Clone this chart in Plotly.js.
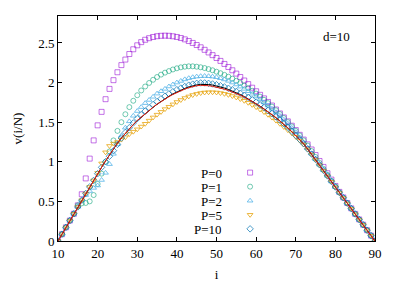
<!DOCTYPE html>
<html><head><meta charset="utf-8">
<script src="https://cdn.plot.ly/plotly-3.0.1.min.js"></script>
<style>html,body{margin:0;padding:0;background:#fff;}#chart{width:407px;height:285px;}</style>
</head><body><div id="chart"></div>
<script>
// i values 10..90
const iVals = [];
for (let k = 10; k <= 90; k++) iVals.push(k);

const vP0 = [0,0.086,0.172,0.258,0.344,0.45,0.59,0.79,1.04,1.27,
 1.46,1.63,1.79,1.92,2.03,2.13,2.22,2.29,2.36,2.42,
 2.47,2.51,2.54,2.56,2.575,2.585,2.59,2.592,2.59,2.584,
 2.575,2.562,2.545,2.524,2.5,2.474,2.445,2.413,2.38,2.346,
 2.31,2.273,2.235,2.196,2.155,2.113,2.07,2.026,1.98,1.935,
 1.89,1.845,1.8,1.755,1.71,1.66,1.61,1.56,1.51,1.455,
 1.40,1.34,1.28,1.22,1.155,1.085,1.01,0.935,0.855,0.775,
 0.695,0.62,0.55,0.48,0.412,0.342,0.272,0.206,0.136,0.068,
 0];
const vP1 = [0,0.086,0.172,0.258,0.344,0.45,0.475,0.48,0.50,0.58,
 0.72,0.85,1.0,1.13,1.27,1.39,1.5,1.6,1.69,1.77,
 1.84,1.9,1.95,1.995,2.035,2.07,2.1,2.125,2.145,2.165,
 2.18,2.192,2.2,2.205,2.205,2.2,2.193,2.183,2.17,2.155,
 2.137,2.118,2.097,2.074,2.049,2.022,1.993,1.962,1.93,1.896,
 1.86,1.822,1.782,1.74,1.696,1.65,1.602,1.552,1.5,1.446,
 1.39,1.332,1.27,1.205,1.135,1.06,0.985,0.91,0.835,0.76,
 0.688,0.615,0.547,0.477,0.41,0.341,0.271,0.205,0.135,0.068,
 0];
const vP2 = [0,0.086,0.172,0.258,0.344,0.43,0.515,0.58,0.63,0.67,
 0.70,0.77,0.86,0.97,1.1,1.22,1.33,1.43,1.51,1.58,
 1.64,1.69,1.74,1.78,1.82,1.86,1.89,1.92,1.95,1.975,
 2.0,2.02,2.04,2.055,2.067,2.075,2.08,2.082,2.08,2.075,
 2.067,2.054,2.039,2.021,2.0,1.975,1.948,1.92,1.89,1.858,
 1.824,1.788,1.75,1.71,1.668,1.624,1.578,1.53,1.48,1.428,
 1.372,1.308,1.242,1.172,1.103,1.035,0.963,0.893,0.822,0.751,
 0.681,0.611,0.545,0.476,0.41,0.34,0.27,0.205,0.135,0.068,
 0];
const vP5 = [0,0.086,0.172,0.258,0.344,0.43,0.515,0.6,0.683,0.765,
 0.86,0.98,1.12,1.2,1.23,1.25,1.28,1.31,1.35,1.38,
 1.41,1.445,1.48,1.52,1.56,1.595,1.63,1.665,1.695,1.725,
 1.755,1.78,1.805,1.825,1.843,1.857,1.868,1.875,1.878,1.878,
 1.875,1.868,1.858,1.845,1.83,1.812,1.792,1.77,1.745,1.718,
 1.69,1.66,1.628,1.594,1.558,1.52,1.48,1.44,1.40,1.36,
 1.315,1.268,1.218,1.158,1.093,1.028,0.958,0.888,0.818,0.748,
 0.678,0.608,0.543,0.474,0.408,0.339,0.269,0.204,0.134,0.067,
 0];
const vP10 = [0,0.086,0.172,0.258,0.344,0.43,0.515,0.6,0.683,0.765,
 0.85,0.93,1.0,1.07,1.14,1.22,1.30,1.37,1.43,1.49,
 1.545,1.595,1.64,1.682,1.722,1.76,1.795,1.828,1.858,1.885,
 1.91,1.93,1.95,1.967,1.98,1.99,1.995,1.995,1.99,1.982,
 1.972,1.96,1.945,1.928,1.909,1.888,1.865,1.84,1.813,1.784,
 1.753,1.72,1.685,1.648,1.609,1.568,1.525,1.48,1.435,1.385,
 1.333,1.282,1.227,1.162,1.097,1.03,0.962,0.892,0.822,0.752,
 0.682,0.612,0.546,0.477,0.41,0.341,0.271,0.205,0.136,0.068,
 0];
const vRed = [0,0.086,0.172,0.258,0.344,0.43,0.515,0.6,0.683,0.765,
 0.85,0.93,1.01,1.09,1.165,1.235,1.30,1.36,1.415,1.47,
 1.52,1.565,1.608,1.648,1.688,1.726,1.76,1.792,1.822,1.85,
 1.875,1.897,1.917,1.935,1.95,1.96,1.965,1.965,1.96,1.952,
 1.942,1.93,1.916,1.9,1.882,1.862,1.84,1.816,1.79,1.762,
 1.732,1.7,1.667,1.632,1.595,1.556,1.515,1.473,1.43,1.38,
 1.33,1.28,1.225,1.16,1.095,1.03,0.96,0.89,0.82,0.75,
 0.68,0.61,0.545,0.475,0.41,0.34,0.27,0.205,0.135,0.068,
 0];
const vBlack = [0,0.086,0.172,0.258,0.344,0.43,0.515,0.6,0.683,0.765,
 0.85,0.93,1.01,1.09,1.165,1.235,1.30,1.36,1.415,1.47,
 1.52,1.565,1.608,1.648,1.688,1.726,1.762,1.796,1.827,1.856,
 1.882,1.905,1.926,1.944,1.959,1.97,1.976,1.978,1.975,1.968,
 1.958,1.946,1.931,1.913,1.894,1.873,1.849,1.823,1.795,1.766,
 1.734,1.701,1.667,1.632,1.595,1.556,1.515,1.473,1.43,1.38,
 1.33,1.28,1.225,1.16,1.095,1.03,0.96,0.89,0.82,0.75,
 0.68,0.61,0.545,0.475,0.41,0.34,0.27,0.205,0.135,0.068,
 0];

const seriesNames = ['P=0','P=1','P=2','P=5','P=10'];
const seriesData = [vP0, vP1, vP2, vP5, vP10];
const seriesColors = ['rgba(148,0,211,0.55)','rgba(0,158,115,0.55)','rgba(86,180,233,0.8)','rgba(230,159,0,0.75)','rgba(0,114,178,0.7)'];
const seriesSymbols = ['square-open','circle-open','triangle-up-open','triangle-down-open','diamond-open'];
const xTicks = [10,20,30,40,50,60,70,80,90];
const yTicks = [0,0.5,1,1.5,2,2.5];
const yTickText = ['0','0.5','1','1.5','2','2.5'];

const FONT = 'Liberation Serif, Times New Roman, serif';
const traces = [];
seriesData.forEach((v, k) => {
  traces.push({x: iVals, y: v, type: 'scatter', mode: 'markers', name: seriesNames[k], showlegend: false,
    marker: {symbol: seriesSymbols[k], size: 5, color: seriesColors[k], line: {width: 1, color: seriesColors[k]}}});
});
traces.push({x: iVals, y: vBlack, type: 'scatter', mode: 'lines', showlegend: false, line: {color: '#000', width: 1}});
traces.push({x: iVals, y: vRed, type: 'scatter', mode: 'lines', showlegend: false, line: {color: '#e51e10', width: 1}});

// legend key (layout positions in a hidden 0..1 frame)
const keyX = 0.606, keyTop = 0.304, keyStep = 0.0625;
seriesData.forEach((v, k) => {
  traces.push({x: [keyX], y: [keyTop - k*keyStep], xaxis: 'x2', yaxis: 'y2', type: 'scatter', mode: 'markers', showlegend: false, hoverinfo: 'skip',
    marker: {symbol: seriesSymbols[k], size: 5, color: seriesColors[k], line: {width: 1, color: seriesColors[k]}}});
});
const annotations = seriesNames.map((n, k) => ({
  text: n, xref: 'paper', yref: 'paper', x: 0.5205, y: keyTop - k*keyStep, xanchor: 'right', yanchor: 'middle',
  height: 12, valign: 'middle', borderpad: 0,
  showarrow: false, font: {family: FONT, size: 13, color: '#000'}
}));
annotations.push({text: 'd=10', xref: 'paper', yref: 'paper', x: 0.88, y: 0.907, xanchor: 'center', yanchor: 'middle', showarrow: false, font: {family: FONT, size: 13, color: '#000'}});

const layout = {
  width: 407, height: 285,
  margin: {l: 58, r: 32, t: 16, b: 44},
  paper_bgcolor: '#fff', plot_bgcolor: '#fff',
  font: {family: FONT, size: 13, color: '#000'},
  showlegend: false,
  xaxis: {range: [10, 90], tickvals: xTicks, ticks: 'inside', ticklen: 4, tickcolor: '#000', mirror: 'ticks', showline: true, linecolor: '#000', linewidth: 1,
    showgrid: false, zeroline: false, tickfont: {family: FONT, size: 13}, title: {text: 'i', font: {family: FONT, size: 13}, standoff: 10}},
  yaxis: {range: [0, 2.84], tickvals: yTicks, ticktext: yTickText, ticks: 'inside', ticklen: 4, tickcolor: '#000', mirror: 'ticks', showline: true, linecolor: '#000', linewidth: 1,
    showgrid: false, zeroline: false, tickfont: {family: FONT, size: 13}, title: {text: 'v(i/N)', font: {family: FONT, size: 13}, standoff: 12}},
  xaxis2: {range: [0, 1], overlaying: 'x', visible: false, fixedrange: true},
  yaxis2: {range: [0, 1], overlaying: 'y', visible: false, fixedrange: true},
  annotations: annotations
};
Plotly.newPlot('chart', traces, layout, {staticPlot: true, displayModeBar: false});
</script>
</body></html>
